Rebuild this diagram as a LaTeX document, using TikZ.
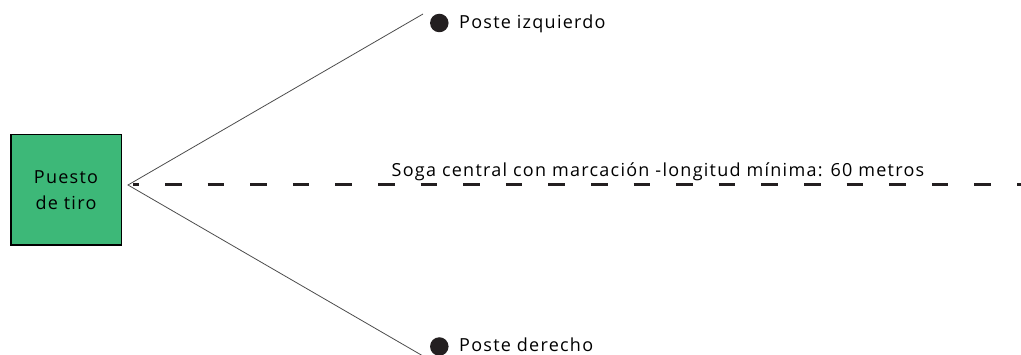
\documentclass[tikz,border=0pt]{standalone}
\usepackage{fontspec}
\setmainfont{Open Sans}[LetterSpace=7]
\usepackage{tikz}
\usetikzlibrary{positioning}
\definecolor{verde}{RGB}{61,184,120}
\definecolor{negro}{RGB}{35,31,32}
\tikzstyle{edge}=[draw=black!70, line width=0.8pt]
\tikzstyle{soga}=[draw=negro, line width=3pt, dash pattern=on 16.5pt off 26.1pt, dash phase=10.6pt]
\tikzstyle{poste}=[circle, fill=negro, inner sep=0pt, minimum size=18.5pt]
\tikzstyle{rotulo}=[anchor=base west, inner sep=0pt, font=\fontsize{18}{26}\selectfont]

\begin{document}
\begin{tikzpicture}[x=1pt,y=-1pt]
\useasboundingbox ( 0 , 0 ) rectangle ( 1021 , 355 );
\node[draw=black, line width=1.5pt, fill=verde, minimum size=110.5pt, align=center, font=\fontsize{18}{26}\selectfont] (puesto) at ( 66 , 190 ) {Puesto\\de tiro};
\coordinate (vertice) at ( 128 , 185 );
\coordinate (inicio) at ( 133 , 185 );
\coordinate (fin) at ( 1021 , 185 );
\coordinate (finizq) at ( 423 , 14 );
\coordinate (finder) at ( 423 , 356 );
\node[poste] (izq) at ( 439.3 , 23 ) {};
\node[poste] (der) at ( 439.3 , 346.5 ) {};
\node[rotulo] (tizq) at ( 459 , 28.3 ) {Poste izquierdo};
\node[rotulo] (tder) at ( 459 , 351.7 ) {Poste derecho};
\node[rotulo] (tsoga) at ( 391.5 , 177 ) {Soga central con marcación -longitud mínima: 60 metros};
\draw[edge] (finizq) -- (vertice) -- (finder);
\draw[soga] (inicio) -- (fin);
\end{tikzpicture}
\end{document}
